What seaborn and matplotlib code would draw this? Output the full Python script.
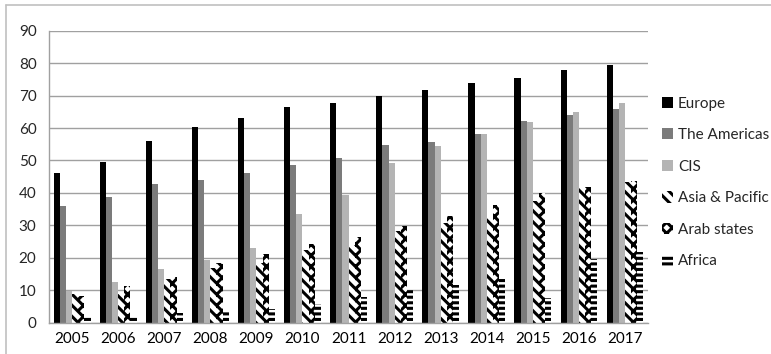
import matplotlib
matplotlib.use("Agg")
import matplotlib.pyplot as plt
from matplotlib.lines import Line2D
import numpy as np
import pandas as pd
import seaborn as sns

years = ["2005", "2006", "2007", "2008", "2009", "2010", "2011",
         "2012", "2013", "2014", "2015", "2016", "2017"]
regions = ["Europe", "The Americas", "CIS", "Asia & Pacific", "Arab states", "Africa"]

europe = [46.2, 49.6, 56.0, 60.3, 63.1, 66.6, 67.8, 70.0, 71.7, 73.9, 75.3, 77.9, 79.5]
americas = [35.9, 38.6, 42.7, 44.1, 46.0, 48.6, 50.9, 54.9, 55.8, 58.2, 62.3, 64.0, 65.9]
cis = [9.9, 12.6, 16.6, 19.4, 23.1, 33.5, 39.4, 49.2, 54.4, 58.2, 61.9, 65.0, 67.7]
asia_pacific = [8.8, 9.0, 13.5, 16.8, 18.5, 22.4, 23.8, 28.4, 30.8, 32.3, 37.6, 41.5, 43.5]
arab_states = [8.2, 11.4, 14.1, 18.5, 21.3, 24.4, 26.5, 29.8, 32.9, 36.4, 39.9, 41.7, 43.8]
africa = [1.8, 1.8, 3.0, 4.0, 4.2, 5.9, 8.0, 10.1, 11.7, 13.8, 7.6, 19.6, 21.7]

series = [europe, americas, cis, asia_pacific, arab_states, africa]
colors = ["#000000", "#7b7b7b", "#b4b4b4", "#ffffff", "#ffffff", "#ffffff"]
hatches = [None, None, None, "\\\\\\", "xxx", "---"]

df = pd.DataFrame({
    "year": np.repeat(years, len(regions)),
    "region": regions * len(years),
    "value": [s[i] for i in range(len(years)) for s in series],
})

sns.set_style("white")
plt.rcParams["font.family"] = ["Lato", "DejaVu Sans"]
plt.rcParams["hatch.linewidth"] = 2.2

fig = plt.figure(figsize=(7.71, 3.54), dpi=100)
ax = fig.add_axes([0.0636, 0.0884, 0.777, 0.825])

sns.barplot(data=df, x="year", y="value", hue="region", hue_order=regions,
            palette=colors, width=0.8, saturation=1, ax=ax, legend=False,
            linewidth=0)

for cont, col, h in zip(ax.containers, colors, hatches):
    for bar in cont:
        bar.set_linewidth(0)
        if h:
            bar.set_facecolor("white")
            bar.set_edgecolor("black")
            bar.set_hatch(h)

ax.set_ylim(0, 90)
ax.set_xlim(-0.5, len(years) - 0.5)
ax.set_yticks(range(0, 91, 10))
ax.yaxis.grid(True, color="#a0a0a0", linewidth=1)
ax.set_axisbelow(True)
ax.set_xlabel("")
ax.set_ylabel("")

for side in ["top", "right"]:
    ax.spines[side].set_visible(False)
for side in ["left", "bottom"]:
    ax.spines[side].set_color("#a0a0a0")
    ax.spines[side].set_linewidth(1)

ax.set_xticks(np.arange(len(years)))
ax.set_xticklabels(years)
ax.set_xticks(np.arange(-0.5, len(years), 1), minor=True)
ax.tick_params(axis="x", which="major", length=0, pad=7, labelsize=11, colors="#000000")
ax.tick_params(axis="x", which="minor", length=5, color="#a0a0a0", width=1)
ax.tick_params(axis="y", which="major", length=5, color="#a0a0a0", width=1,
               labelsize=11, pad=4)

leg = ax.legend(handles=list(ax.containers), labels=regions,
                loc="center left", bbox_to_anchor=(1.005, 0.48),
                frameon=False, fontsize=11, handlelength=0.75,
                handleheight=0.75, handletextpad=0.3, labelspacing=1.15,
                borderaxespad=0.3)

# light frame around the figure
fig.add_artist(Line2D([6 / 771, 1.0], [1 - 5 / 354, 1 - 5 / 354],
                      transform=fig.transFigure, color="#c0c0c0", linewidth=1.2))
fig.add_artist(Line2D([6 / 771, 6 / 771], [0.0, 1 - 5 / 354],
                      transform=fig.transFigure, color="#c0c0c0", linewidth=1.2))

fig.savefig("out.png", dpi=100)
